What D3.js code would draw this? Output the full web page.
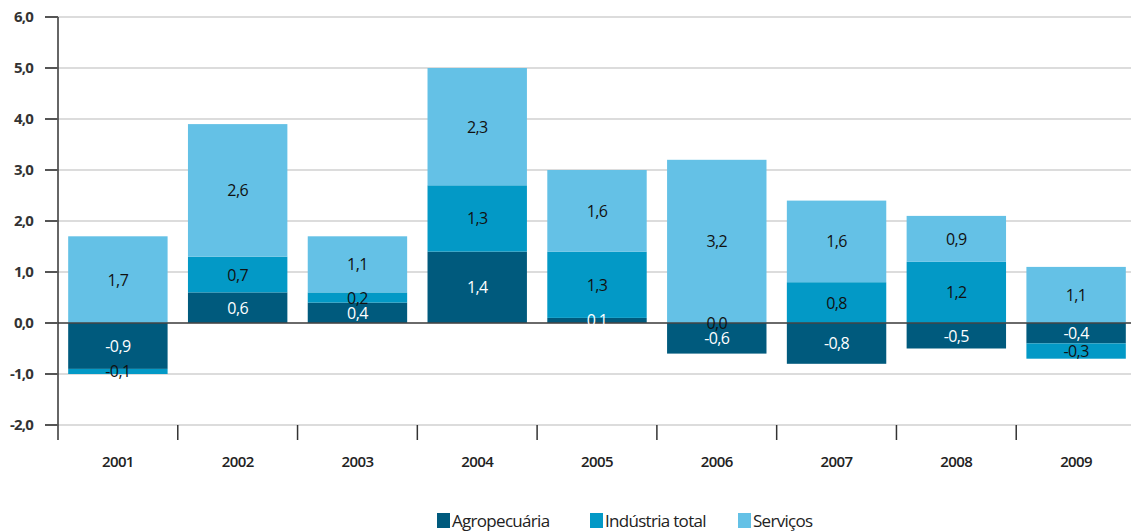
<!DOCTYPE html>
<html><head><meta charset="utf-8">
<script src="https://cdn.jsdelivr.net/npm/d3@7"></script>
<style>body{margin:0;background:#fff}svg{display:block}</style>
</head><body>
<svg id="c" width="1131" height="532"></svg>
<script>
const years = ["2001","2002","2003","2004","2005","2006","2007","2008","2009"];
const seriesNames = ["Agropecuária","Indústria total","Serviços"];
const agro = [-0.9, 0.6, 0.4, 1.4, 0.1, -0.6, -0.8, -0.5, -0.4];
const industria = [-0.1, 0.7, 0.2, 1.3, 1.3, 0.0, 0.8, 1.2, -0.3];
const servicos = [1.7, 2.6, 1.1, 2.3, 1.6, 3.2, 1.6, 0.9, 1.1];
const yTicks = [-2, -1, 0, 1, 2, 3, 4, 5, 6];
const colors = ["#005a7d", "#0399c6", "#64c1e6"];
const labelColors = ["#ffffff", "#111111", "#111111"];

const svg = d3.select("#c");
const font = "'Open Sans', sans-serif";
const x = d3.scaleBand().domain(years).range([58, 1136]).paddingInner(0.17).paddingOuter(0.085);
const y = d3.scaleLinear().domain([-2, 6]).range([425, 17]);

// gridlines
svg.append("g").selectAll("line").data(yTicks).join("line")
  .attr("x1", 58).attr("x2", 1131)
  .attr("y1", d => y(d)).attr("y2", d => y(d))
  .attr("stroke", "#dcdcdc").attr("stroke-width", 2);

// stack
const data = years.map((yr, i) => ({year: yr, vals: [agro[i], industria[i], servicos[i]]}));
const segs = [];
data.forEach(d => {
  let pos = 0, neg = 0;
  d.vals.forEach((v, k) => {
    let y0, y1;
    if (v >= 0) { y0 = pos; y1 = pos + v; pos = y1; }
    else { y0 = neg; y1 = neg + v; neg = y1; }
    segs.push({year: d.year, k, v, y0, y1});
  });
});

svg.append("g").selectAll("rect").data(segs).join("rect")
  .attr("x", d => x(d.year)).attr("width", x.bandwidth())
  .attr("y", d => y(Math.max(d.y0, d.y1)))
  .attr("height", d => Math.abs(y(d.y0) - y(d.y1)))
  .attr("fill", d => colors[d.k]);

// zero line
svg.append("line").attr("x1", 58).attr("x2", 1131).attr("y1", y(0)).attr("y2", y(0))
  .attr("stroke", "#444").attr("stroke-width", 1.5);

// segment labels
const fmt = v => d3.format(".1f")(v).replace(".", ",").replace("−", "-");
svg.append("g").selectAll("text").data(segs).join("text")
  .attr("x", d => x(d.year) + x.bandwidth() / 2)
  .attr("y", d => y((d.y0 + d.y1) / 2) + 6)
  .attr("text-anchor", "middle")
  .attr("font-family", font).attr("font-size", 16).attr("font-weight", 500)
  .attr("fill", d => labelColors[d.k])
  .attr("letter-spacing", -0.6)
  .text(d => fmt(d.v));

// y axis
const yAxis = svg.append("g");
yAxis.append("line").attr("x1", 58).attr("x2", 58).attr("y1", y(6)).attr("y2", 440)
  .attr("stroke", "#333").attr("stroke-width", 1.5);
yAxis.selectAll(".t").data(yTicks).join("line").attr("class", "t")
  .attr("x1", 45).attr("x2", 58).attr("y1", d => y(d)).attr("y2", d => y(d))
  .attr("stroke", "#555").attr("stroke-width", 2);
yAxis.selectAll("text").data(yTicks).join("text")
  .attr("x", 33).attr("y", d => y(d) + 5)
  .attr("text-anchor", "end")
  .attr("font-family", font).attr("font-size", 15).attr("font-weight", 700)
  .attr("fill", "#333").attr("letter-spacing", -0.8)
  .text(d => fmt(d));

// x axis ticks (band boundaries)
const step = x.step();
svg.append("g").selectAll("line").data(years.slice(1)).join("line")
  .attr("x1", d => x(d) - x.paddingInner() * step / 2)
  .attr("x2", d => x(d) - x.paddingInner() * step / 2)
  .attr("y1", 425).attr("y2", 440)
  .attr("stroke", "#333").attr("stroke-width", 1.5);
svg.append("g").selectAll("text").data(years).join("text")
  .attr("x", d => x(d) + x.bandwidth() / 2).attr("y", 467)
  .attr("text-anchor", "middle")
  .attr("font-family", font).attr("font-size", 15).attr("font-weight", 600)
  .attr("fill", "#222").attr("letter-spacing", -0.6)
  .text(d => d);

// legend
const legX = [437, 590, 738];
const leg = svg.append("g").selectAll("g").data(seriesNames).join("g")
  .attr("transform", (d, i) => `translate(${legX[i]},513)`);
leg.append("rect").attr("width", 13).attr("height", 15).attr("fill", (d, i) => colors[i]);
leg.append("text").attr("x", 15).attr("y", 14)
  .attr("font-family", font).attr("font-size", 17)
  .attr("fill", "#222").attr("letter-spacing", -0.7)
  .text(d => d);
</script>
</body></html>
